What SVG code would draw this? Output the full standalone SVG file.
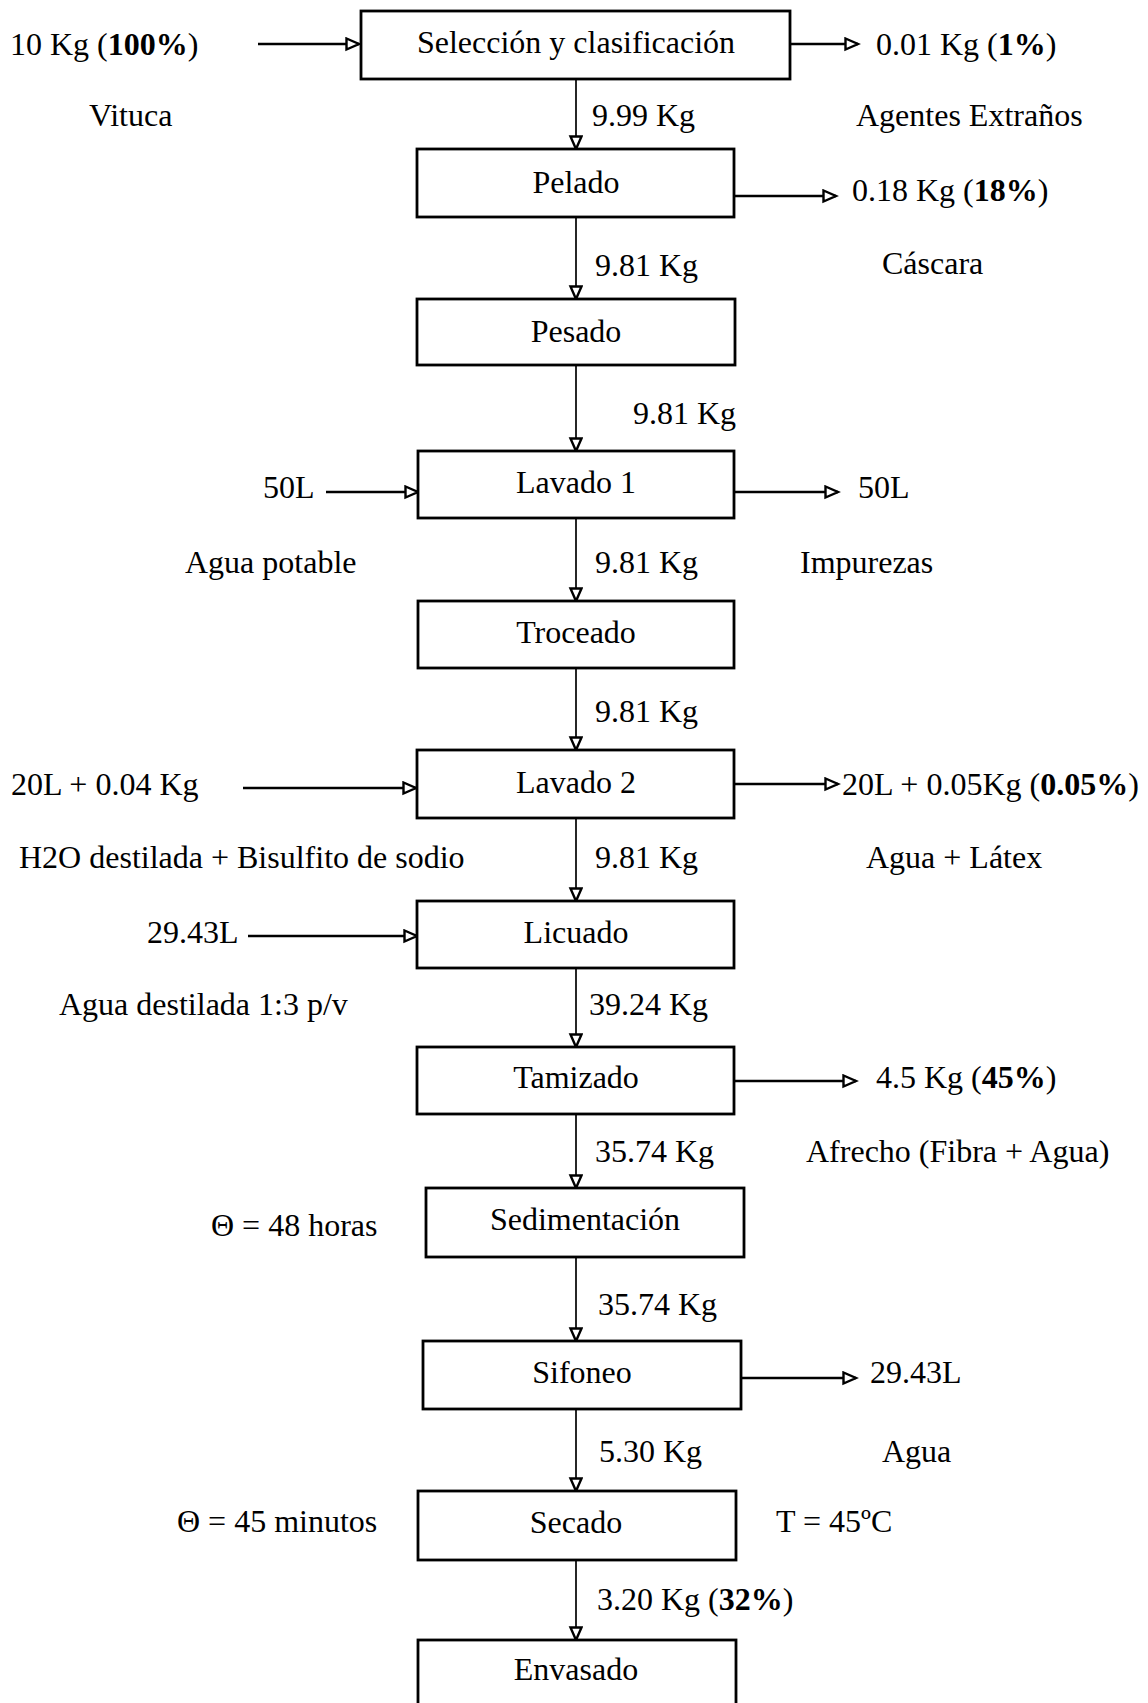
<svg xmlns="http://www.w3.org/2000/svg" width="1148" height="1703" viewBox="0 0 1148 1703">
<style>
text{font-family:"Liberation Serif","Times New Roman",serif;font-size:32px;fill:#000}
.c{text-anchor:middle}
.box{fill:#fff;stroke:#000;stroke-width:2.8}
.v{stroke:#000;stroke-width:1.7;fill:none;marker-end:url(#ah)}
.h{stroke:#000;stroke-width:2.4;fill:none;marker-end:url(#ah)}
</style>
<defs>
<marker id="ah" markerUnits="userSpaceOnUse" markerWidth="18" markerHeight="16" refX="14" refY="7" orient="auto">
<path d="M1.5,1.5 L14,7 L1.5,12.5 z" fill="#fff" stroke="#000" stroke-width="2.4" stroke-linejoin="miter"/>
</marker>
</defs>
<rect width="1148" height="1703" fill="#fff"/>
<g id="connectors">
<line class="v" x1="576" y1="79" x2="576" y2="149"/>
<line class="v" x1="576" y1="217" x2="576" y2="299"/>
<line class="v" x1="576" y1="365" x2="576" y2="451"/>
<line class="v" x1="576" y1="518" x2="576" y2="601"/>
<line class="v" x1="576" y1="668" x2="576" y2="750"/>
<line class="v" x1="576" y1="818" x2="576" y2="901"/>
<line class="v" x1="576" y1="968" x2="576" y2="1047"/>
<line class="v" x1="576" y1="1114" x2="576" y2="1188"/>
<line class="v" x1="576" y1="1257" x2="576" y2="1341"/>
<line class="v" x1="576" y1="1409" x2="576" y2="1491"/>
<line class="v" x1="576" y1="1560" x2="576" y2="1640"/>
<line class="h" x1="258" y1="44" x2="359" y2="44"/>
<line class="h" x1="790" y1="44" x2="858" y2="44"/>
<line class="h" x1="734" y1="196" x2="836" y2="196"/>
<line class="h" x1="326" y1="492" x2="418" y2="492"/>
<line class="h" x1="734" y1="492" x2="838" y2="492"/>
<line class="h" x1="243" y1="788" x2="416" y2="788"/>
<line class="h" x1="734" y1="784" x2="838" y2="784"/>
<line class="h" x1="248" y1="936" x2="417" y2="936"/>
<line class="h" x1="734" y1="1081" x2="856" y2="1081"/>
<line class="h" x1="742" y1="1378" x2="856" y2="1378"/>
</g>
<g id="n1"><rect class="box" x="361" y="11" width="429" height="68"/><text class="c" x="576" y="53">Selección y clasificación</text></g>
<g id="n2"><rect class="box" x="417" y="149" width="317" height="68"/><text class="c" x="576" y="193">Pelado</text></g>
<g id="n3"><rect class="box" x="417" y="299" width="318" height="66"/><text class="c" x="576" y="342">Pesado</text></g>
<g id="n4"><rect class="box" x="418" y="451" width="316" height="67"/><text class="c" x="576" y="493">Lavado 1</text></g>
<g id="n5"><rect class="box" x="418" y="601" width="316" height="67"/><text class="c" x="576" y="643">Troceado</text></g>
<g id="n6"><rect class="box" x="417" y="750" width="317" height="68"/><text class="c" x="576" y="793">Lavado 2</text></g>
<g id="n7"><rect class="box" x="417" y="901" width="317" height="67"/><text class="c" x="576" y="943">Licuado</text></g>
<g id="n8"><rect class="box" x="417" y="1047" width="317" height="67"/><text class="c" x="576" y="1088">Tamizado</text></g>
<g id="n9"><rect class="box" x="426" y="1188" width="318" height="69"/><text class="c" x="585" y="1230">Sedimentación</text></g>
<g id="n10"><rect class="box" x="423" y="1341" width="318" height="68"/><text class="c" x="582" y="1383">Sifoneo</text></g>
<g id="n11"><rect class="box" x="418" y="1491" width="318" height="69"/><text class="c" x="576" y="1533">Secado</text></g>
<g id="n12"><rect class="box" x="418" y="1640" width="318" height="70"/><text class="c" x="576" y="1680">Envasado</text></g>
<g id="labels">
<text x="10" y="55">10 Kg (<tspan font-weight="bold">100%</tspan>)</text>
<text x="876" y="55">0.01 Kg (<tspan font-weight="bold">1%</tspan>)</text>
<text x="89" y="126">Vituca</text>
<text x="592" y="126">9.99 Kg</text>
<text x="856" y="126">Agentes Extraños</text>
<text x="852" y="201">0.18 Kg (<tspan font-weight="bold">18%</tspan>)</text>
<text x="595" y="276">9.81 Kg</text>
<text x="882" y="274">Cáscara</text>
<text x="633" y="424">9.81 Kg</text>
<text x="263" y="498">50L</text>
<text x="858" y="498">50L</text>
<text x="185" y="573">Agua potable</text>
<text x="595" y="573">9.81 Kg</text>
<text x="800" y="573">Impurezas</text>
<text x="595" y="722">9.81 Kg</text>
<text x="11" y="795">20L + 0.04 Kg</text>
<text x="842" y="795">20L + 0.05Kg (<tspan font-weight="bold">0.05%</tspan>)</text>
<text x="19" y="868">H2O destilada + Bisulfito de sodio</text>
<text x="595" y="868">9.81 Kg</text>
<text x="866" y="868">Agua + Látex</text>
<text x="147" y="943">29.43L</text>
<text x="59" y="1015">Agua destilada 1:3 p/v</text>
<text x="589" y="1015">39.24 Kg</text>
<text x="876" y="1088">4.5 Kg (<tspan font-weight="bold">45%</tspan>)</text>
<text x="595" y="1162">35.74 Kg</text>
<text x="806" y="1162">Afrecho (Fibra + Agua)</text>
<text x="211" y="1236">Θ = 48 horas</text>
<text x="598" y="1315">35.74 Kg</text>
<text x="870" y="1383">29.43L</text>
<text x="599" y="1462">5.30 Kg</text>
<text x="882" y="1462">Agua</text>
<text x="177" y="1532">Θ = 45 minutos</text>
<text x="776" y="1532">T = 45ºC</text>
<text x="597" y="1610">3.20 Kg (<tspan font-weight="bold">32%</tspan>)</text>
</g>
</svg>
